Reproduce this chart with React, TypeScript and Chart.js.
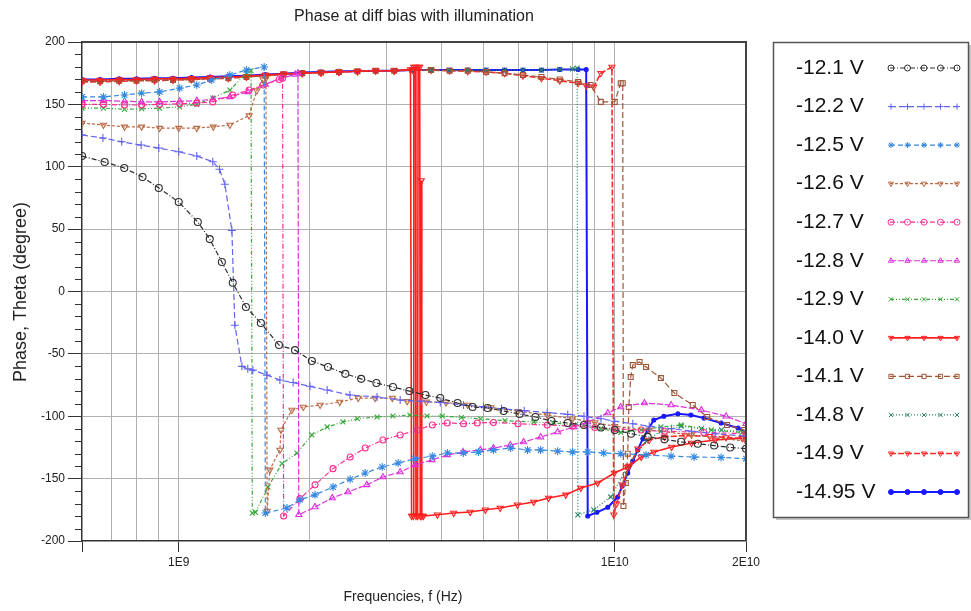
import React, { useEffect, useRef } from 'react';
import { Chart, registerables } from 'chart.js';
import { drawPoint } from 'chart.js/helpers';

Chart.register(...registerables);

const chartTitle = 'Phase at diff bias with illumination';
const xTitle = 'Frequencies, f (Hz)';
const yTitle = 'Phase, Theta (degree)';

const xMin = 6e8;
const xMax = 2e10;
const yMin = -200;
const yMax = 200;
const xGridValues = [6e8, 7e8, 8e8, 9e8, 1e9, 2e9, 3e9, 4e9, 5e9, 6e9, 7e9, 8e9, 9e9, 1e10, 2e10];
const xTickLabels: [number, string][] = [[1e9, '1E9'], [1e10, '1E10'], [2e10, '2E10']];
const xTickMarks = [6e8, 1e9, 1e10, 2e10];

const seriesLabels = ['-12.1 V', '-12.2 V', '-12.5 V', '-12.6 V', '-12.7 V', '-12.8 V', '-12.9 V', '-14.0 V', '-14.1 V', '-14.8 V', '-14.9 V', '-14.95 V'];

const p121: [number, number][] = [[6.0e8,108.6],[6.76e8,103.8],[7.5e8,99],[8.26e8,91.8],[9.0e8,83],[1.0e9,71.7],[1.106e9,55.7],[1.178e9,42],[1.256e9,23.6],[1.33e9,7],[1.426e9,-12.4],[1.543e9,-25.3],[1.698e9,-42.9],[1.848e9,-47],[2.02e9,-55.7],[2.2e9,-60.5],[2.41e9,-66],[2.62e9,-70],[2.84e9,-73.3],[3.1e9,-76.6],[3.38e9,-79.8],[3.68e9,-83],[3.98e9,-85.4],[4.36e9,-89.4],[4.72e9,-92.6],[5.11e9,-93.4],[5.56e9,-95.8],[6.05e9,-98.2],[6.58e9,-100.6],[7.16e9,-103.8],[7.8e9,-105.4],[8.5e9,-107],[9.3e9,-109],[1.0e10,-111],[1.09e10,-114],[1.19e10,-116.5],[1.3e10,-118.5],[1.42e10,-120.5],[1.55e10,-122],[1.69e10,-123.5],[1.84e10,-125],[2.0e10,-126]];

const p122: [number, number][] = [[6.0e8,125.5],[6.7e8,123],[7.4e8,120],[8.2e8,117.4],[9.0e8,115],[1.0e9,112],[1.1e9,108.6],[1.197e9,104],[1.24e9,98],[1.276e9,86],[1.324e9,49],[1.345e9,-27],[1.396e9,-60],[1.44e9,-62],[1.479e9,-63],[1.593e9,-67],[1.706e9,-71],[1.83e9,-73],[2.0e9,-76],[2.19e9,-79],[2.47e9,-83],[2.85e9,-84.6],[3.22e9,-87],[3.6e9,-88],[3.98e9,-89],[4.5e9,-91],[5.0e9,-92.5],[5.5e9,-94],[6.2e9,-95.5],[7.0e9,-97],[7.8e9,-98.5],[8.5e9,-100],[9.3e9,-102],[1.0e10,-104],[1.1e10,-106],[1.2e10,-108],[1.35e10,-110],[1.5e10,-112],[1.7e10,-114],[2.0e10,-116]];

const p125: [number, number][] = [[6.0e8,156],[6.72e8,156],[7.51e8,157.5],[8.22e8,159],[9.04e8,160],[1.005e9,163],[1.1e9,165.5],[1.19e9,169.5],[1.31e9,173.5],[1.43e9,177.6],[1.57e9,180],[1.58e9,-177.6],[1.771e9,-173.5],[1.897e9,-167],[2.054e9,-163],[2.259e9,-156.7],[2.473e9,-150.5],[2.677e9,-145.5],[2.929e9,-140.7],[3.187e9,-137.5],[3.487e9,-134],[3.816e9,-132],[4.132e9,-129.5],[4.497e9,-129.5],[4.868e9,-128.6],[5.27e9,-127],[5.767e9,-125.5],[6.31e9,-127],[6.76e9,-127],[7.396e9,-128],[8.005e9,-128.6],[8.668e9,-128.6],[9.434e9,-129.5],[1.032e10,-130],[1.18e10,-131],[1.346e10,-132],[1.52e10,-132.7],[1.753e10,-133],[2.0e10,-134]];

const p126: [number, number][] = [[6.0e8,135],[6.72e8,133.5],[7.51e8,132],[8.22e8,132],[9.04e8,131],[1.0e9,131],[1.1e9,131],[1.2e9,132],[1.31e9,133.5],[1.45e9,141],[1.51e9,161],[1.56e9,170],[1.585e9,171],[1.595e9,-176],[1.618e9,-143],[1.706e9,-127],[1.716e9,-111],[1.818e9,-95],[1.93e9,-92.6],[2.11e9,-91],[2.34e9,-88.6],[2.58e9,-85.4],[2.82e9,-85.4],[3.09e9,-85.4],[3.34e9,-88],[3.7e9,-88.5],[4.1e9,-89],[4.6e9,-91],[5.2e9,-93],[6.0e9,-96],[7.0e9,-99],[8.0e9,-102],[9.0e9,-105],[1.0e10,-108],[1.2e10,-111],[1.5e10,-115],[2.0e10,-120]];

const p127: [number, number][] = [[6.0e8,150],[6.72e8,150],[7.51e8,149.5],[8.22e8,149.5],[9.04e8,150],[1.005e9,150.5],[1.1e9,151],[1.197e9,152],[1.33e9,157.5],[1.45e9,161.5],[1.56e9,165.5],[1.7e9,170],[1.73e9,171],[1.74e9,-180],[1.897e9,-166],[2.054e9,-155],[2.259e9,-142],[2.473e9,-132.7],[2.677e9,-125.5],[2.94e9,-119],[3.22e9,-115],[3.52e9,-111],[3.816e9,-107],[4.13e9,-105.4],[4.5e9,-106],[4.84e9,-105.4],[5.27e9,-105],[6.0e9,-106],[7.0e9,-107],[8.0e9,-108],[9.0e9,-109],[1.0e10,-110],[1.15e10,-111],[1.3e10,-112],[1.6e10,-113],[2.0e10,-114]];

const p128: [number, number][] = [[6.0e8,153],[6.72e8,153],[7.51e8,152.5],[8.22e8,152],[9.04e8,152],[1.005e9,152.5],[1.1e9,153],[1.197e9,154],[1.31e9,156],[1.44e9,160],[1.58e9,166],[1.716e9,171],[1.85e9,174],[1.877e9,175],[1.885e9,-179],[2.054e9,-172.7],[2.25e9,-165.5],[2.445e9,-160.7],[2.7e9,-155],[2.94e9,-148.7],[3.22e9,-144.7],[3.49e9,-139],[3.81e9,-135],[4.13e9,-131],[4.49e9,-128.6],[4.92e9,-127],[5.27e9,-125.5],[5.76e9,-123],[6.18e9,-120.7],[6.76e9,-116.7],[7.4e9,-112.6],[8.05e9,-108.6],[8.67e9,-104.6],[9.64e9,-97.4],[1.032e10,-92.6],[1.17e10,-89.4],[1.346e10,-91],[1.58e10,-95],[1.8e10,-100],[2.0e10,-106]];

const p129: [number, number][] = [[6.0e8,147],[6.72e8,147],[7.51e8,146],[8.22e8,146.5],[9.04e8,147],[1.005e9,148],[1.1e9,150],[1.197e9,155],[1.31e9,161.5],[1.43e9,175],[1.465e9,177],[1.475e9,-177.6],[1.5e9,-177],[1.602e9,-156.7],[1.725e9,-138],[1.867e9,-129.5],[2.02e9,-115],[2.19e9,-108.6],[2.38e9,-104.6],[2.57e9,-102],[2.85e9,-100.6],[3.1e9,-99.8],[3.39e9,-99],[3.71e9,-99.8],[4.02e9,-99.8],[4.45e9,-101],[4.92e9,-102],[5.6e9,-103.5],[6.52e9,-104.6],[7.24e9,-105.4],[8.05e9,-107],[9.29e9,-110],[1.032e10,-113],[1.15e10,-111],[1.276e10,-108.6],[1.42e10,-107],[1.665e10,-111],[1.96e10,-113]];

const p140: [number, number][] = [[6.0e8,169.5],[6.6e8,169.5],[7.3e8,170],[8.0e8,170],[8.8e8,170.5],[9.7e8,170.5],[1.07e9,171],[1.18e9,171.5],[1.3e9,172],[1.43e9,172.5],[1.58e9,173.5],[1.74e9,174.5],[1.92e9,175],[2.12e9,175.5],[2.33e9,176],[2.57e9,176.5],[2.83e9,177],[3.12e9,177],[3.4e9,178],[3.42e9,-180],[3.45e9,-180],[3.46e9,180],[3.49e9,180],[3.5e9,-180],[3.53e9,-180],[3.54e9,180],[3.57e9,180],[3.58e9,-180],[3.6e9,89],[3.61e9,-180],[3.64e9,-180],[3.92e9,-179],[4.27e9,-177.6],[4.66e9,-176.8],[5.05e9,-175],[5.46e9,-173.5],[5.98e9,-171],[6.52e9,-168.7],[7.05e9,-165.5],[7.72e9,-163],[8.36e9,-157.5],[9.14e9,-153.5],[9.98e9,-145.5],[1.07e10,-140.7],[1.15e10,-132.7],[1.23e10,-128.6],[1.35e10,-124.7],[1.5e10,-121.5],[1.7e10,-119],[1.96e10,-117.5]];

const p141: [number, number][] = [[6.0e8,168.5],[6.6e8,168.5],[7.3e8,169],[8.0e8,169],[8.8e8,169.5],[9.7e8,169.5],[1.07e9,170],[1.18e9,170.5],[1.3e9,171],[1.43e9,172],[1.58e9,173],[1.74e9,174],[1.92e9,175],[2.12e9,175.5],[2.33e9,176],[2.57e9,176.5],[2.83e9,177],[3.12e9,177],[3.44e9,177.5],[3.79e9,177.5],[4.18e9,177],[4.6e9,177],[5.07e9,176],[5.59e9,175],[6.16e9,173.5],[6.79e9,172],[7.48e9,170],[8.24e9,168],[8.8e9,165.5],[9.29e9,152],[1.0e10,152],[1.032e10,167],[1.043e10,167],[1.047e10,-172],[1.06e10,-153.5],[1.071e10,-130],[1.077e10,-92.6],[1.088e10,-68.6],[1.1e10,-59],[1.14e10,-56.5],[1.18e10,-60.5],[1.276e10,-69.4],[1.37e10,-81.4],[1.51e10,-91],[1.63e10,-100.6],[1.81e10,-107],[1.98e10,-111]];

const p148: [number, number][] = [[6.0e8,169],[6.6e8,169],[7.3e8,169.5],[8.0e8,169.5],[8.8e8,170],[9.7e8,170],[1.07e9,170.5],[1.18e9,171],[1.3e9,171.5],[1.43e9,172],[1.58e9,173],[1.74e9,174],[1.92e9,175],[2.12e9,175.5],[2.33e9,176],[2.57e9,176.5],[2.83e9,177],[3.12e9,177],[3.44e9,177.5],[3.79e9,177.5],[4.18e9,177.5],[4.6e9,177.5],[5.07e9,177.5],[5.59e9,177.5],[6.16e9,177.5],[6.79e9,177.5],[7.48e9,178],[8.0e9,178.5],[8.2e9,179],[8.23e9,-179],[8.95e9,-175],[9.79e9,-164.7],[1.07e10,-140.7],[1.18e10,-120],[1.276e10,-112],[1.42e10,-108],[1.58e10,-110],[1.757e10,-111],[2.0e10,-113]];

const p149: [number, number][] = [[6.0e8,168],[6.6e8,168],[7.3e8,168.5],[8.0e8,169],[8.8e8,169],[9.7e8,169.5],[1.07e9,170],[1.18e9,170.5],[1.3e9,171],[1.43e9,172],[1.58e9,173],[1.74e9,174],[1.92e9,175],[2.12e9,175.5],[2.33e9,176],[2.57e9,176.5],[2.83e9,177],[3.12e9,177],[3.44e9,177.5],[3.79e9,177.5],[4.18e9,177],[4.6e9,176.5],[5.07e9,176],[5.59e9,175],[6.16e9,173],[6.79e9,171],[7.48e9,169],[8.24e9,167],[8.6e9,165],[8.95e9,164],[9.29e9,175],[9.85e9,180],[9.95e9,-179],[1.01e10,-170],[1.04e10,-155],[1.08e10,-140],[1.13e10,-126],[1.2e10,-119],[1.3e10,-116.5],[1.45e10,-115.5],[1.65e10,-116],[1.8e10,-117],[2.0e10,-118]];

const p1495: [number, number][] = [[6.0e8,170],[6.6e8,170],[7.3e8,170.5],[8.0e8,170.5],[8.8e8,171],[9.7e8,171],[1.07e9,171.5],[1.18e9,172],[1.3e9,172.5],[1.43e9,173],[1.58e9,174],[1.74e9,174.5],[1.92e9,175.5],[2.12e9,176],[2.33e9,176.5],[2.57e9,176.5],[2.83e9,177],[3.12e9,177],[3.44e9,177.5],[3.79e9,177.5],[4.18e9,177.5],[4.6e9,177.5],[5.07e9,177.5],[5.59e9,177.5],[6.16e9,177.5],[6.79e9,177.5],[7.48e9,178],[8.24e9,178],[8.6e9,178],[8.67e9,-180],[9.1e9,-177],[9.64e9,-173],[1.016e10,-164.7],[1.04e10,-156],[1.071e10,-145.5],[1.1e10,-136],[1.129e10,-127],[1.16e10,-118],[1.191e10,-111],[1.229e10,-103],[1.296e10,-100],[1.396e10,-98],[1.495e10,-99],[1.602e10,-101.5],[1.753e10,-105.4],[1.918e10,-109.4],[2.0e10,-112.6]];

const seriesData = [p121, p122, p125, p126, p127, p128, p129, p140, p141, p148, p149, p1495];

type Style = { color: string; dash: number[]; width: number; point: string; rot: number; radius: number; fill: boolean };
const styles: Style[] = [
  { color: '#2e2e2e', dash: [5, 2, 1, 2], width: 1.2, point: 'circle', rot: 0, radius: 3.5, fill: false },
  { color: '#6363f0', dash: [6, 3], width: 1.2, point: 'cross', rot: 0, radius: 4, fill: false },
  { color: '#3589e2', dash: [5, 3], width: 1.2, point: 'star', rot: 0, radius: 4, fill: false },
  { color: '#bb6a45', dash: [3, 2], width: 1.2, point: 'triangle', rot: 180, radius: 3.5, fill: false },
  { color: '#ff2f92', dash: [5, 2, 1, 2], width: 1.2, point: 'circle', rot: 0, radius: 3, fill: false },
  { color: '#dc30dc', dash: [6, 2], width: 1.2, point: 'triangle', rot: 0, radius: 3.5, fill: false },
  { color: '#38a838', dash: [4, 2, 1, 2, 1, 2], width: 1.2, point: 'crossRot', rot: 0, radius: 3.5, fill: false },
  { color: '#ff1f1f', dash: [], width: 1.6, point: 'triangle', rot: 180, radius: 3.5, fill: false },
  { color: '#a05535', dash: [6, 3], width: 1.2, point: 'rect', rot: 0, radius: 3.5, fill: false },
  { color: '#2a8563', dash: [1, 2], width: 1.3, point: 'crossRot', rot: 0, radius: 3.5, fill: false },
  { color: '#ff2a2a', dash: [6, 2], width: 1.6, point: 'triangle', rot: 180, radius: 3.5, fill: false },
  { color: '#1818ff', dash: [], width: 2, point: 'circle', rot: 0, radius: 2, fill: true },
];

const FONT = '"Liberation Sans", Arial, sans-serif';

const near = (a: number, b: number) => Math.abs(a - b) / b < 1e-6;

const overlay = {
  id: 'overlay',
  afterDraw(chart: any) {
    const ctx: CanvasRenderingContext2D = chart.ctx;
    const { left, right, top, bottom } = chart.chartArea;
    ctx.save();
    ctx.setLineDash([]);
    ctx.strokeStyle = '#444';
    ctx.lineWidth = 2;
    ctx.beginPath();
    ctx.moveTo(left, top);
    ctx.lineTo(right, top);
    ctx.lineTo(right, bottom);
    ctx.stroke();
    const ys = chart.scales.y;
    ctx.lineWidth = 1;
    ctx.strokeStyle = '#333';
    for (let v = yMin; v <= yMax; v += 10) {
      if (v % 50 === 0) continue;
      const py = Math.round(ys.getPixelForValue(v)) + 0.5;
      ctx.beginPath();
      ctx.moveTo(left - 7, py);
      ctx.lineTo(left, py);
      ctx.stroke();
    }
    ctx.fillStyle = '#222';
    ctx.textAlign = 'center';
    ctx.textBaseline = 'middle';
    ctx.font = '16px ' + FONT;
    ctx.fillText(chartTitle, (left + right) / 2, 17);
    ctx.font = '14px ' + FONT;
    ctx.fillText(xTitle, 403, 597);
    ctx.save();
    ctx.translate(21, 292);
    ctx.rotate(-Math.PI / 2);
    ctx.font = '18px ' + FONT;
    ctx.fillText(yTitle, 0, 0);
    ctx.restore();
    const bx = 773, by = 42, bw = 195, bh = 475;
    ctx.fillStyle = '#fff';
    ctx.fillRect(bx, by, bw, bh);
    ctx.strokeStyle = '#c8c8c8';
    ctx.lineWidth = 2;
    ctx.beginPath();
    ctx.moveTo(bx + 3, by + bh + 2);
    ctx.lineTo(bx + bw + 2, by + bh + 2);
    ctx.lineTo(bx + bw + 2, by + 3);
    ctx.stroke();
    ctx.strokeStyle = '#555';
    ctx.lineWidth = 1.5;
    ctx.strokeRect(bx + 0.5, by + 0.5, bw, bh);
    const rowGap = 38.55;
    for (let i = 0; i < seriesLabels.length; i++) {
      const st = styles[i];
      const y = 68 + i * rowGap;
      ctx.fillStyle = '#111';
      ctx.textAlign = 'left';
      ctx.textBaseline = 'middle';
      ctx.font = '21px ' + FONT;
      ctx.fillText(seriesLabels[i], 796, y);
      ctx.strokeStyle = st.color;
      ctx.lineWidth = st.width;
      ctx.setLineDash(st.dash);
      ctx.beginPath();
      ctx.moveTo(890, y);
      ctx.lineTo(958, y);
      ctx.stroke();
      ctx.setLineDash([]);
      ctx.lineWidth = 1;
      ctx.fillStyle = st.fill ? st.color : 'rgba(0,0,0,0)';
      for (let k = 0; k < 5; k++) {
        drawPoint(ctx, { pointStyle: st.point as any, rotation: st.rot, radius: st.fill ? 2.5 : 3, borderWidth: 1 } as any, 891 + k * 16.5, y);
      }
    }
    ctx.restore();
  },
};

export default function App() {
  const ref = useRef<HTMLCanvasElement>(null);
  useEffect(() => {
    if (!ref.current) return;
    const chart = new Chart(ref.current, {
      type: 'line',
      data: {
        datasets: seriesData.map((d, i) => {
          const st = styles[i];
          return {
            label: seriesLabels[i],
            data: d.map(([x, y]) => ({ x, y })),
            borderColor: st.color,
            backgroundColor: st.color,
            borderWidth: st.width,
            borderDash: st.dash,
            pointStyle: st.point as any,
            pointRotation: st.rot,
            pointRadius: st.radius,
            pointBorderColor: st.color,
            pointBackgroundColor: st.fill ? st.color : 'rgba(0,0,0,0)',
            pointBorderWidth: 1.1,
            fill: false,
            tension: 0,
          };
        }),
      },
      options: {
        responsive: false,
        maintainAspectRatio: false,
        animation: false,
        devicePixelRatio: 1,
        layout: { padding: { left: 0, right: 225, top: 42, bottom: 0 } },
        plugins: { legend: { display: false }, title: { display: false }, tooltip: { enabled: false } },
        scales: {
          x: {
            type: 'logarithmic',
            min: xMin,
            max: xMax,
            afterBuildTicks: (s: any) => {
              s.ticks = xGridValues.map((v) => ({ value: v }));
            },
            afterFit: (s: any) => {
              s.height = 70;
            },
            ticks: {
              autoSkip: false,
              maxRotation: 0,
              minRotation: 0,
              padding: 3,
              color: '#222',
              font: { family: FONT, size: 12 },
              callback: (v: any) => {
                const f = xTickLabels.find(([t]) => near(Number(v), t));
                return f ? f[1] : '';
              },
            },
            grid: {
              color: (c: any) => {
                const v = c.tick ? c.tick.value : 0;
                return near(v, xMin) || near(v, xMax) ? 'rgba(0,0,0,0)' : '#b0b0b0';
              },
              lineWidth: 1,
              tickLength: 11,
              tickColor: (c: any) => {
                const v = c.tick ? c.tick.value : 0;
                return xTickMarks.some((t) => near(v, t)) ? '#333' : 'rgba(0,0,0,0)';
              },
            },
            border: { display: true, color: '#333', width: 1.5 },
          },
          y: {
            type: 'linear',
            min: yMin,
            max: yMax,
            afterFit: (s: any) => {
              s.width = 82;
            },
            ticks: {
              stepSize: 10,
              autoSkip: false,
              padding: 3,
              color: '#222',
              font: { family: FONT, size: 12 },
              callback: (v: any) => (Number(v) % 50 === 0 ? String(v) : ''),
            },
            grid: {
              color: (c: any) => {
                const v = c.tick ? c.tick.value : 1;
                return v % 50 === 0 && Math.abs(v) !== 200 ? '#b0b0b0' : 'rgba(0,0,0,0)';
              },
              lineWidth: 1,
              tickLength: 14,
              tickColor: (c: any) => {
                const v = c.tick ? c.tick.value : 1;
                return v % 50 === 0 ? '#333' : 'rgba(0,0,0,0)';
              },
            },
            border: { display: true, color: '#333', width: 1.5 },
          },
        },
      },
      plugins: [overlay],
    } as any);
    return () => chart.destroy();
  }, []);
  return (
    <div style={{ position: 'absolute', left: 0, top: 0, width: 971, height: 611, background: '#fff' }}>
      <canvas ref={ref} width={971} height={611} style={{ display: 'block', width: 971, height: 611 }} />
    </div>
  );
}
